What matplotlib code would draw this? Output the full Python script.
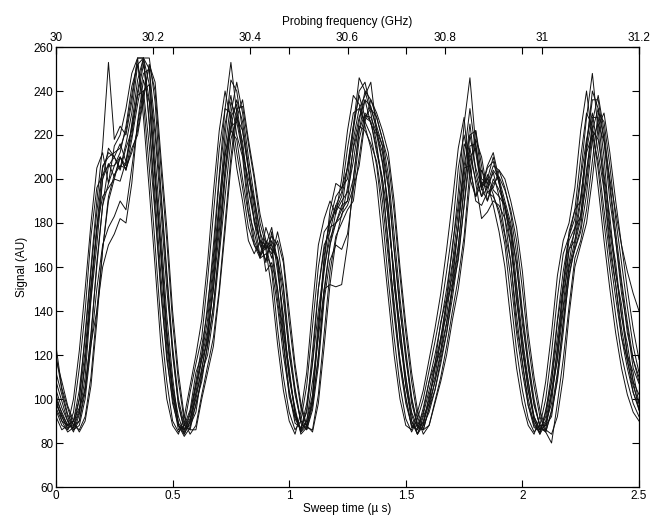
import numpy as np
import matplotlib
matplotlib.use("Agg")
import matplotlib.pyplot as plt

# sweep time grid (us), one sample every 0.025 us
sweep_time = np.linspace(0.0, 2.5, 101)

sweep_01 = [104, 96, 90, 85, 93, 110, 145, 170, 200, 207,
            201, 210, 206, 225, 245, 255, 243, 203, 170, 132,
            106, 92, 84, 90, 103, 118, 126, 155, 180, 214,
            235, 228, 217, 195, 181, 165, 169, 170, 163, 131,
            114, 93, 85, 90, 102, 136, 158, 178, 180, 188,
            190, 215, 228, 236, 225, 220, 207, 188, 152, 133,
            106, 93, 84, 92, 98, 115, 122, 143, 153, 179,
            201, 225, 203, 192, 196, 203, 192, 188, 170, 150,
            122, 108, 90, 86, 86, 102, 118, 148, 162, 178,
            183, 213, 228, 228, 202, 183, 157, 143, 120, 112,
            98]
sweep_02 = [98, 92, 86, 90, 100, 130, 160, 190, 215, 253,
            218, 224, 220, 235, 255, 255, 226, 186, 150, 118,
            100, 86, 88, 95, 112, 120, 143, 165, 200, 225,
            238, 220, 210, 185, 176, 164, 172, 168, 145, 125,
            101, 92, 86, 98, 117, 150, 170, 176, 188, 186,
            206, 224, 238, 228, 226, 212, 200, 168, 144, 117,
            101, 87, 88, 94, 108, 116, 135, 146, 170, 188,
            216, 210, 200, 192, 202, 195, 192, 175, 163, 133,
            117, 97, 89, 84, 95, 108, 135, 152, 172, 178,
            200, 218, 230, 212, 195, 168, 152, 128, 118, 103,
            95]
sweep_03 = [112, 102, 92, 86, 88, 100, 124, 150, 170, 178,
            183, 190, 186, 205, 225, 240, 243, 220, 186, 150,
            122, 97, 86, 88, 94, 112, 120, 138, 165, 192,
            218, 228, 222, 204, 190, 170, 163, 172, 164, 150,
            120, 104, 89, 86, 95, 115, 145, 163, 170, 168,
            175, 195, 218, 229, 228, 221, 212, 196, 168, 140,
            120, 98, 88, 86, 96, 104, 118, 130, 150, 163,
            188, 210, 214, 196, 190, 200, 195, 188, 176, 162,
            134, 116, 98, 88, 85, 94, 108, 130, 157, 168,
            176, 193, 218, 225, 217, 190, 172, 148, 133, 114,
            107]
sweep_04 = [98, 92, 87, 88, 95, 118, 146, 178, 205, 212,
            210, 205, 216, 230, 252, 255, 250, 210, 176, 138,
            110, 88, 83, 87, 102, 113, 130, 150, 188, 220,
            245, 240, 222, 205, 180, 172, 162, 176, 158, 138,
            110, 96, 84, 87, 100, 132, 165, 182, 192, 196,
            200, 222, 240, 244, 232, 224, 215, 180, 158, 126,
            110, 90, 84, 88, 102, 110, 128, 138, 160, 178,
            210, 232, 212, 195, 205, 208, 198, 186, 175, 145,
            126, 104, 91, 84, 89, 98, 124, 142, 168, 172,
            190, 215, 240, 232, 210, 178, 162, 138, 125, 108,
            102]
sweep_05 = [100, 90, 88, 87, 100, 122, 152, 178, 192, 196,
            200, 199, 208, 224, 238, 240, 215, 184, 148, 120,
            98, 88, 86, 94, 106, 120, 136, 162, 190, 212,
            222, 218, 200, 184, 170, 164, 166, 160, 142, 120,
            103, 89, 87, 94, 116, 140, 160, 173, 180, 183,
            196, 214, 224, 222, 216, 208, 190, 164, 138, 115,
            98, 88, 86, 93, 104, 116, 128, 145, 162, 185,
            205, 206, 190, 188, 194, 192, 186, 174, 155, 130,
            112, 97, 87, 86, 92, 108, 128, 150, 168, 176,
            192, 212, 220, 208, 186, 165, 146, 128, 114, 103,
            96]
sweep_06 = [120, 104, 93, 88, 90, 103, 130, 160, 188, 206,
            210, 204, 214, 222, 240, 255, 255, 235, 195, 158,
            124, 100, 88, 86, 98, 108, 125, 142, 170, 204,
            230, 244, 230, 210, 192, 176, 168, 174, 170, 152,
            125, 105, 90, 86, 97, 120, 150, 170, 185, 190,
            194, 208, 226, 240, 236, 228, 218, 202, 175, 146,
            122, 101, 87, 86, 96, 108, 120, 134, 152, 170,
            195, 220, 222, 200, 198, 206, 204, 196, 184, 166,
            140, 118, 100, 87, 85, 95, 112, 135, 160, 172,
            184, 202, 226, 238, 222, 198, 176, 154, 135, 118,
            108]
sweep_07 = [95, 88, 86, 94, 114, 140, 174, 196, 202, 206,
            206, 212, 224, 242, 252, 235, 205, 170, 134, 108,
            90, 85, 88, 103, 116, 128, 154, 184, 214, 232,
            230, 212, 196, 178, 170, 166, 170, 158, 132, 110,
            94, 86, 90, 106, 133, 160, 176, 180, 188, 194,
            214, 230, 232, 226, 220, 206, 183, 154, 128, 106,
            91, 85, 91, 100, 113, 126, 140, 158, 177, 205,
            220, 205, 192, 198, 200, 193, 184, 170, 146, 122,
            104, 91, 85, 88, 100, 121, 146, 166, 174, 186,
            210, 230, 224, 204, 180, 158, 138, 120, 108, 98,
            92]
sweep_08 = [124, 105, 96, 88, 86, 92, 110, 140, 168, 192,
            202, 206, 205, 212, 222, 238, 252, 240, 205, 172,
            135, 108, 90, 84, 88, 102, 115, 128, 150, 180,
            210, 232, 233, 216, 200, 180, 170, 166, 172, 162,
            135, 113, 96, 87, 86, 102, 130, 158, 174, 180,
            186, 190, 210, 228, 232, 228, 218, 208, 185, 156,
            130, 108, 92, 84, 88, 99, 110, 124, 140, 155,
            174, 204, 222, 206, 190, 198, 201, 195, 186, 172,
            150, 125, 106, 92, 85, 80, 98, 118, 142, 164,
            172, 186, 208, 230, 226, 206, 182, 162, 142, 124,
            112]
sweep_09 = [100, 94, 88, 90, 96, 104, 125, 140, 160, 170,
            175, 182, 180, 198, 226, 245, 235, 200, 165, 128,
            104, 89, 86, 91, 100, 114, 128, 150, 176, 204,
            224, 226, 212, 200, 190, 176, 158, 162, 150, 130,
            110, 94, 86, 90, 108, 128, 150, 152, 151, 152,
            170, 200, 222, 230, 226, 214, 200, 182, 156, 132,
            110, 94, 87, 89, 98, 108, 122, 135, 150, 168,
            198, 214, 198, 182, 185, 190, 188, 182, 170, 145,
            122, 104, 92, 86, 88, 102, 118, 140, 160, 168,
            178, 204, 222, 218, 200, 176, 158, 138, 120, 108,
            95]
sweep_10 = [102, 93, 88, 90, 104, 128, 158, 185, 206, 210,
            212, 214, 222, 238, 255, 255, 225, 192, 156, 124,
            102, 88, 85, 93, 108, 124, 140, 170, 202, 232,
            253, 230, 212, 190, 172, 165, 178, 170, 150, 126,
            104, 91, 86, 95, 122, 150, 168, 180, 186, 192,
            205, 224, 246, 240, 230, 216, 196, 172, 140, 118,
            100, 88, 86, 96, 108, 120, 134, 150, 168, 194,
            225, 246, 215, 196, 206, 212, 200, 182, 162, 138,
            116, 100, 88, 85, 94, 112, 136, 158, 174, 182,
            202, 228, 248, 222, 196, 172, 152, 132, 117, 106,
            98]
sweep_11 = [108, 99, 90, 86, 90, 106, 128, 162, 188, 198,
            206, 210, 204, 218, 234, 248, 250, 224, 192, 156,
            120, 98, 86, 89, 97, 110, 124, 142, 168, 200,
            224, 236, 226, 206, 186, 170, 169, 168, 164, 145,
            122, 102, 90, 88, 98, 118, 148, 170, 180, 186,
            190, 200, 222, 236, 233, 222, 215, 198, 168, 142,
            118, 100, 89, 88, 94, 104, 116, 130, 146, 165,
            188, 215, 216, 198, 196, 204, 200, 190, 180, 160,
            138, 114, 97, 88, 88, 92, 110, 134, 155, 170,
            182, 198, 222, 232, 218, 196, 172, 152, 130, 118,
            110]
sweep_12 = [96, 90, 85, 87, 94, 116, 150, 176, 200, 214,
            210, 216, 208, 220, 238, 252, 236, 200, 166, 130,
            104, 88, 84, 90, 106, 118, 132, 158, 186, 210,
            228, 234, 214, 196, 182, 172, 170, 178, 162, 135,
            112, 94, 85, 88, 100, 130, 162, 186, 198, 196,
            205, 218, 232, 238, 244, 222, 208, 186, 152, 128,
            106, 90, 84, 90, 100, 114, 126, 144, 156, 178,
            206, 220, 205, 196, 200, 210, 198, 188, 178, 152,
            128, 108, 92, 86, 90, 104, 122, 152, 176, 186,
            190, 216, 236, 236, 218, 200, 185, 170, 158, 148,
            140]
sweep_13 = [118, 108, 97, 90, 85, 90, 106, 135, 168, 190,
            200, 210, 204, 214, 220, 236, 252, 244, 210, 178,
            140, 112, 92, 86, 86, 100, 112, 124, 148, 176,
            206, 228, 236, 218, 202, 184, 172, 164, 176, 164,
            140, 116, 98, 88, 85, 98, 124, 152, 172, 184,
            188, 196, 206, 226, 236, 230, 222, 212, 190, 160,
            134, 112, 95, 86, 88, 98, 108, 120, 136, 150,
            170, 198, 218, 210, 194, 196, 204, 200, 190, 178,
            158, 130, 110, 95, 86, 84, 92, 110, 138, 160,
            170, 180, 200, 224, 230, 212, 190, 170, 150, 132,
            118]
sweep_14 = [92, 86, 88, 100, 122, 150, 180, 205, 212, 198,
            215, 220, 232, 248, 255, 228, 195, 160, 124, 100,
            88, 84, 92, 106, 120, 136, 162, 194, 222, 240,
            226, 205, 190, 172, 166, 172, 168, 150, 125, 104,
            90, 84, 94, 112, 142, 170, 182, 190, 184, 200,
            222, 238, 234, 224, 214, 198, 172, 146, 120, 100,
            88, 86, 94, 104, 118, 132, 148, 168, 190, 214,
            228, 200, 192, 204, 198, 188, 176, 160, 136, 114,
            98, 88, 84, 92, 108, 130, 156, 172, 180, 196,
            222, 240, 218, 196, 172, 150, 130, 114, 102, 94,
            90]

sweeps = [sweep_01, sweep_02, sweep_03, sweep_04, sweep_05, sweep_06, sweep_07,
          sweep_08, sweep_09, sweep_10, sweep_11, sweep_12, sweep_13, sweep_14]

# top axis: probing frequency swept linearly 30 -> 31.2 GHz
f_start, f_stop, t_stop = 30.0, 31.2, 2.5
freq_ticks = [30, 30.2, 30.4, 30.6, 30.8, 31, 31.2]
freq_labels = ["30", "30.2", "30.4", "30.6", "30.8", "31", "31.2"]
time_ticks = [0, 0.5, 1, 1.5, 2, 2.5]
time_labels = ["0", "0.5", "1", "1.5", "2", "2.5"]
signal_ticks = list(range(60, 261, 20))

plt.rcParams['font.family'] = ['Liberation Sans', 'DejaVu Sans']
plt.rcParams['font.size'] = 8.5

fig = plt.figure(figsize=(6.62, 5.2), dpi=100)
ax = fig.add_axes([56 / 662, 1 - 487 / 520, 583 / 662, 440 / 520])

for s in sweeps:
    ax.plot(sweep_time, s, color='#111111', linewidth=0.7)

ax.set_xlim(0, 2.5)
ax.set_ylim(60, 260)
ax.set_xticks(time_ticks)
ax.set_xticklabels(time_labels)
ax.set_yticks(signal_ticks)
ax.tick_params(direction='in', top=True, right=True, length=5, width=0.8, pad=2)
for sp in ax.spines.values():
    sp.set_linewidth(0.9)

ax.set_xlabel("Sweep time (\u00b5 s)", labelpad=1)
ax.set_ylabel("Signal (AU)", labelpad=4)


def t2f(t):
    return f_start + (f_stop - f_start) * np.asarray(t) / t_stop


def f2t(f):
    return (np.asarray(f) - f_start) * t_stop / (f_stop - f_start)


top = ax.secondary_xaxis('top', functions=(t2f, f2t))
top.set_xticks(freq_ticks)
top.set_xticklabels(freq_labels)
top.tick_params(direction='in', length=5, width=0.8, pad=2)
top.set_xlabel("Probing frequency (GHz)", labelpad=5)

fig.savefig("out.png", dpi=100)
